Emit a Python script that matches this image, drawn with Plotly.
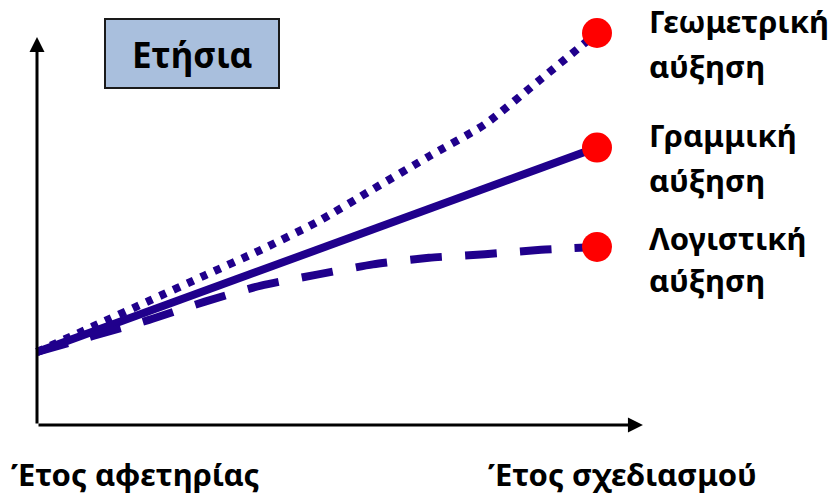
import plotly.graph_objects as go

# Planning horizon: 0 = base year, 10 = design year
years = [0, 1, 2, 3, 4, 5, 6, 7, 8, 9, 10]
geometric = [100, 135, 170, 205, 240, 278, 323, 368, 412, 474, 537]
logistic = [100, 122, 144, 169, 191, 206, 220, 229, 234, 240, 244]
linear_years = [0, 10]
linear = [100, 380]

end_labels = [["Γεωμετρική", "αύξηση"], ["Γραμμική", "αύξηση"], ["Λογιστική", "αύξηση"]]
start_label = "Έτος αφετηρίας"
end_label = "Έτος σχεδιασμού"
box_label = "Ετήσια"

W, H = 830, 496
LINE = "#20008C"
FONT = "Noto Sans"

# axis extents (data units) and mapping from pixel positions
X_MIN, X_MAX = -0.6607, 14.1607
Y_MIN, Y_MAX = -97.26, 582.19
X_TIP, Y_TIP = 10.82, 531.5


def px_x(p):
    return p / W


def px_y(p):
    return 1 - p / H


fig = go.Figure()

fig.add_trace(go.Scatter(x=years, y=geometric, mode="lines",
                         line=dict(color=LINE, width=8, dash="7px,8px", shape="spline", smoothing=0.6)))
fig.add_trace(go.Scatter(x=linear_years, y=linear, mode="lines",
                         line=dict(color=LINE, width=8)))
fig.add_trace(go.Scatter(x=years, y=logistic, mode="lines",
                         line=dict(color=LINE, width=8, dash="32px,23px", shape="spline", smoothing=0.6)))

# end-point markers
fig.add_trace(go.Scatter(x=[years[-1], linear_years[-1], years[-1]],
                         y=[geometric[-1], linear[-1], logistic[-1]],
                         mode="markers",
                         marker=dict(color="#FF0000", size=30, line=dict(width=0))))

annotations = []
# axes drawn as arrows from the origin
annotations.append(dict(x=X_TIP, y=0, ax=0, ay=0, xref="x", yref="y", axref="x", ayref="y",
                        text="", showarrow=True, arrowhead=2, arrowsize=1, arrowwidth=3,
                        arrowcolor="#000000"))
annotations.append(dict(x=0, y=Y_TIP, ax=0, ay=0, xref="x", yref="y", axref="x", ayref="y",
                        text="", showarrow=True, arrowhead=2, arrowsize=1, arrowwidth=3,
                        arrowcolor="#000000"))

label_font = dict(family=FONT, size=31, color="#000000", weight="bold")
line_rows = [(21, 66), (135, 180), (238, 280)]
for lines, rows in zip(end_labels, line_rows):
    for txt, yc in zip(lines, rows):
        annotations.append(dict(x=px_x(647), y=px_y(yc), xref="paper", yref="paper",
                                text=txt, showarrow=False, xanchor="left", yanchor="middle",
                                align="left", font=label_font))

annotations.append(dict(x=px_x(135), y=px_y(474), xref="paper", yref="paper", text=start_label,
                        showarrow=False, xanchor="center", yanchor="middle", font=label_font))
annotations.append(dict(x=px_x(622), y=px_y(474), xref="paper", yref="paper", text=end_label,
                        showarrow=False, xanchor="center", yanchor="middle", font=label_font))
annotations.append(dict(x=px_x(192), y=px_y(54), xref="paper", yref="paper", text=box_label,
                        showarrow=False, xanchor="center", yanchor="middle",
                        font=dict(family=FONT, size=35, color="#000000", weight="bold")))

shapes = [dict(type="rect", xref="paper", yref="paper",
               x0=px_x(105), x1=px_x(279), y0=px_y(88), y1=px_y(19),
               fillcolor="#A9BFDD", line=dict(color="#1A1A1A", width=2), layer="below")]

fig.update_layout(
    width=W, height=H,
    margin=dict(l=0, r=0, t=0, b=0),
    paper_bgcolor="white", plot_bgcolor="white",
    showlegend=False,
    xaxis=dict(visible=False, range=[X_MIN, X_MAX], fixedrange=True),
    yaxis=dict(visible=False, range=[Y_MIN, Y_MAX], fixedrange=True),
    annotations=annotations,
    shapes=shapes,
)

fig.write_html("out.html")
